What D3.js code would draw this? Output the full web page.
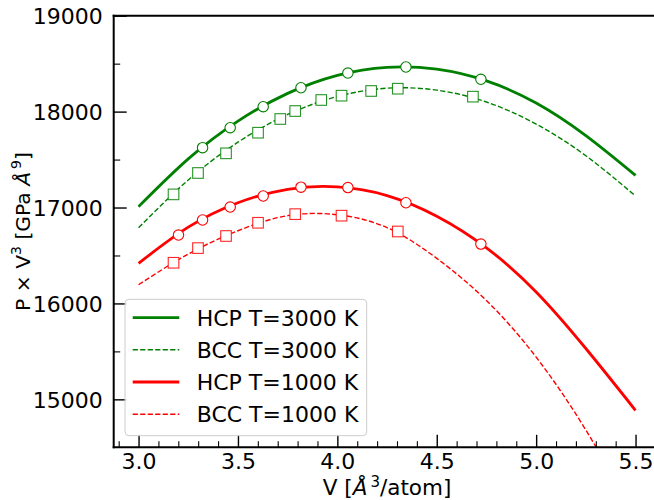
<!DOCTYPE html>
<html>
<head>
<meta charset="utf-8">
<script src="https://cdn.jsdelivr.net/npm/d3@7"></script>
<style>
  html, body { margin: 0; padding: 0; background: #fff; }
  svg { display: block; }
  svg text { font-family: "DejaVu Sans", sans-serif; }
</style>
</head>
<body>
<svg id="chart" width="654" height="500"></svg>
<script>
// ---- data ----
const fitV = [3.0, 3.25, 3.5, 3.75, 4.0, 4.25, 4.5, 4.75, 5.0, 5.25, 5.5];
const hcp3000Fit = [17009, 17507, 17901, 18190, 18378, 18462, 18442, 18320, 18090, 17750, 17335];
const bcc3000Fit = [16789, 17287, 17681, 17970, 18158, 18244, 18224, 18100, 17870, 17540, 17120];
const hcp1000Fit = [16418, 16795, 17050, 17190, 17215, 17125, 16910, 16580, 16120, 15530, 14885];
const bcc1000Fit = [16195, 16515, 16758, 16915, 16925, 16790, 16470, 16030, 15440, 14680, 13780];

const hcp3000V = [3.322, 3.461, 3.627, 3.817, 4.053, 4.345, 4.722];
const hcp3000P = [17624, 17832, 18051, 18249, 18402, 18465, 18337];
const bcc3000V = [3.176, 3.299, 3.440, 3.601, 3.713, 3.788, 3.919, 4.021, 4.170, 4.304, 4.682];
const bcc3000P = [17137, 17360, 17565, 17780, 17923, 18006, 18121, 18166, 18215, 18239, 18156];
const hcp1000V = [3.201, 3.322, 3.461, 3.627, 3.817, 4.053, 4.345, 4.722];
const hcp1000P = [16713, 16870, 17005, 17120, 17212, 17208, 17050, 16619];
const bcc1000V = [3.176, 3.299, 3.440, 3.601, 3.788, 4.021, 4.304];
const bcc1000P = [16424, 16577, 16703, 16841, 16931, 16915, 16750];

const legendLabels = ["HCP T=3000 K", "BCC T=3000 K", "HCP T=1000 K", "BCC T=1000 K"];
const xMajorTicks = [3.0, 3.5, 4.0, 4.5, 5.0, 5.5];
const yMajorTicks = [15000, 16000, 17000, 18000, 19000];

// ---- layout ----
const GREEN = "#008000", RED = "#ff0000";
const FONT = "DejaVu Sans, sans-serif";
const TICK_FS = 22, LEG_FS = 22;
const svg = d3.select("#chart");
const pL = 113.7, pR = 660.4, pT = 15.7, pB = 447.3;
const x = d3.scaleLinear().domain([2.875, 5.625]).range([pL, pR]);
const y = d3.scaleLinear().domain([14500, 19000]).range([pB, pT]);

svg.append("defs").append("clipPath").attr("id", "clip")
  .append("rect").attr("x", pL).attr("y", pT).attr("width", pR - pL).attr("height", pB - pT);

const plot = svg.append("g").attr("clip-path", "url(#clip)");

const series = [
  {fit: hcp3000Fit, V: hcp3000V, P: hcp3000P, color: GREEN, solid: true},
  {fit: bcc3000Fit, V: bcc3000V, P: bcc3000P, color: GREEN, solid: false},
  {fit: hcp1000Fit, V: hcp1000V, P: hcp1000P, color: RED, solid: true},
  {fit: bcc1000Fit, V: bcc1000V, P: bcc1000P, color: RED, solid: false}
];

const line = d3.line().x(d => x(d[0])).y(d => y(d[1])).curve(d3.curveNatural);

series.forEach(s => {
  plot.append("path")
    .datum(fitV.map((v, i) => [v, s.fit[i]]))
    .attr("d", line)
    .attr("fill", "none")
    .attr("stroke", s.color)
    .attr("stroke-width", s.solid ? 2.8 : 1.4)
    .attr("stroke-dasharray", s.solid ? null : "5.2,2.3");
});

series.forEach(s => {
  const pts = s.V.map((v, i) => [v, s.P[i]]);
  if (s.solid) {
    plot.selectAll(null).data(pts).enter().append("circle")
      .attr("cx", d => x(d[0])).attr("cy", d => y(d[1])).attr("r", 5.2)
      .attr("fill", "#fff").attr("stroke", s.color).attr("stroke-width", 1.1);
  } else {
    const h = 10.6;
    plot.selectAll(null).data(pts).enter().append("rect")
      .attr("x", d => x(d[0]) - h / 2).attr("y", d => y(d[1]) - h / 2)
      .attr("width", h).attr("height", h)
      .attr("fill", "#fff").attr("stroke", s.color).attr("stroke-width", 1.1)
      .attr("stroke-opacity", 0.85);
  }
});

// ---- axes ----
const axes = svg.append("g");
const xMinor = d3.range(29, 57).map(d => d / 10).filter(v => !xMajorTicks.some(m => Math.abs(m - v) < 1e-6));
const yMinor = [15500, 16500, 17500, 18500];

const xAxis = d3.axisBottom(x).tickValues(xMajorTicks).tickFormat(d3.format(".1f")).tickSizeInner(-12.5).tickSizeOuter(0).tickPadding(0);
const gx = axes.append("g").attr("transform", `translate(0,${pB})`).call(xAxis).attr("font-family", FONT);
gx.select(".domain").remove();
gx.selectAll(".tick line").attr("stroke", "#000").attr("stroke-width", 1.4);
gx.selectAll(".tick text").attr("font-size", TICK_FS).attr("fill", "#000").attr("y", 21.5).attr("dy", null);

const xAxisMinor = d3.axisBottom(x).tickValues(xMinor).tickFormat("").tickSizeInner(-6).tickSizeOuter(0);
const gxm = axes.append("g").attr("transform", `translate(0,${pB})`).call(xAxisMinor);
gxm.select(".domain").remove();
gxm.selectAll(".tick line").attr("stroke", "#000").attr("stroke-width", 1.1);

const yAxis = d3.axisLeft(y).tickValues(yMajorTicks).tickFormat(d3.format("d")).tickSizeInner(-13).tickSizeOuter(0).tickPadding(0);
const gy = axes.append("g").attr("transform", `translate(${pL},0)`).call(yAxis).attr("font-family", FONT);
gy.select(".domain").remove();
gy.selectAll(".tick line").attr("stroke", "#000").attr("stroke-width", 1.4);
gy.selectAll(".tick text").attr("font-size", TICK_FS).attr("fill", "#000").attr("x", -11).attr("dy", "0.36em");

const yAxisMinor = d3.axisLeft(y).tickValues(yMinor).tickFormat("").tickSizeInner(-6.5).tickSizeOuter(0);
const gym = axes.append("g").attr("transform", `translate(${pL},0)`).call(yAxisMinor);
gym.select(".domain").remove();
gym.selectAll(".tick line").attr("stroke", "#000").attr("stroke-width", 1.1);

// spines
axes.append("line").attr("x1", pL).attr("x2", pL).attr("y1", pT - 1).attr("y2", pB + 1).attr("stroke", "#000").attr("stroke-width", 2);
axes.append("line").attr("x1", pL - 1).attr("x2", pR).attr("y1", pB).attr("y2", pB).attr("stroke", "#000").attr("stroke-width", 2);
axes.append("line").attr("x1", pL - 1).attr("x2", pR).attr("y1", pT).attr("y2", pT).attr("stroke", "#000").attr("stroke-width", 2);

// axis labels
const xl = svg.append("text").attr("x", (pL + pR) / 2).attr("y", 495).attr("text-anchor", "middle")
  .attr("font-size", 21.5).attr("fill", "#000").attr("font-family", FONT);
xl.append("tspan").text("V [");
xl.append("tspan").attr("font-style", "italic").text("Å");
xl.append("tspan").attr("dy", -8.5).attr("dx", 3).attr("font-size", 15).text("3");
xl.append("tspan").attr("dy", 8.5).text("/atom]");

const yl = svg.append("text").attr("transform", `translate(29.5,${(pT + pB) / 2}) rotate(-90)`)
  .attr("text-anchor", "middle").attr("font-size", 20.3).attr("fill", "#000").attr("font-family", FONT);
yl.append("tspan").text("P × V");
yl.append("tspan").attr("dy", -8.5).attr("font-size", 14).text("3");
yl.append("tspan").attr("dy", 8.5).text(" [GPa ");
yl.append("tspan").attr("font-style", "italic").text("Å");
yl.append("tspan").attr("dy", -8.5).attr("dx", 3).attr("font-size", 14).text("9");
yl.append("tspan").attr("dy", 8.5).text("]");

// legend
const lg = svg.append("g");
lg.append("rect").attr("x", 125).attr("y", 299.3).attr("width", 241.7).attr("height", 136.4)
  .attr("rx", 4).attr("fill", "#fff").attr("fill-opacity", 0.8).attr("stroke", "#cccccc").attr("stroke-width", 1);
const rowY = [317.7, 349.7, 382.0, 414.3];
series.forEach((s, i) => {
  lg.append("line").attr("x1", 132.7).attr("x2", 179.3).attr("y1", rowY[i]).attr("y2", rowY[i])
    .attr("stroke", s.color).attr("stroke-width", s.solid ? 2.8 : 1.4)
    .attr("stroke-dasharray", s.solid ? null : "5.2,2.3");
  lg.append("text").attr("x", 196.7).attr("y", rowY[i]).attr("dy", "0.36em")
    .attr("font-size", LEG_FS).attr("font-family", FONT).attr("fill", "#000").text(legendLabels[i]);
});
</script>
</body>
</html>
